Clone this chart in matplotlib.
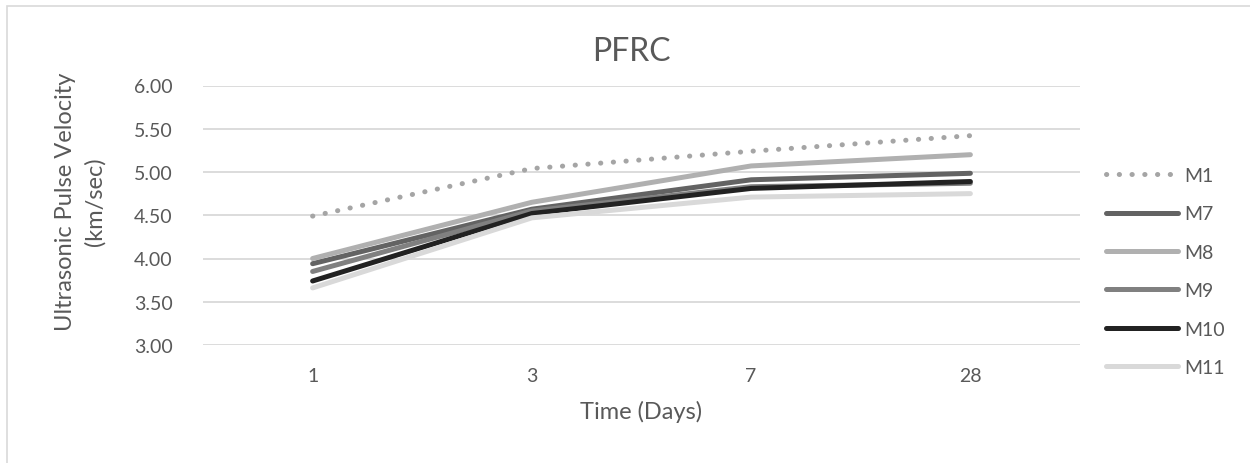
import matplotlib
matplotlib.use("Agg")
import matplotlib.pyplot as plt
from matplotlib.patches import Rectangle

days = ["1", "3", "7", "28"]
labels = ["M1", "M7", "M8", "M9", "M10", "M11"]
m1 = [4.49, 5.04, 5.24, 5.42]
m7 = [3.94, 4.57, 4.91, 4.985]
m8 = [4.00, 4.65, 5.07, 5.20]
m9 = [3.85, 4.55, 4.83, 4.87]
m10 = [3.74, 4.52, 4.81, 4.89]
m11 = [3.66, 4.47, 4.71, 4.75]

plt.rcParams['font.family'] = ['Lato', 'DejaVu Sans']
txt = '#595959'

fig = plt.figure(figsize=(12.5, 4.64), dpi=100)
fig.patches.append(Rectangle((7/1250, -0.1), 1.2, 1 - 7/464 + 0.1,
                             transform=fig.transFigure, fill=False,
                             edgecolor='#d9d9d9', lw=1.2))
ax = fig.add_axes([203/1250, 1 - 346/464, 877/1250, 259.5/464])

x = range(len(days))
lw = 3.6
ax.plot(x, m1, color='#a5a5a5', lw=lw, linestyle=(0, (0.05, 2.5)),
        dash_capstyle='round', solid_capstyle='round', label='M1')
styles = [(m7, '#636363', 'M7'), (m8, '#b0b0b0', 'M8'), (m9, '#808080', 'M9'),
          (m10, '#222222', 'M10'), (m11, '#d9d9d9', 'M11')]
for vals, c, lab in styles:
    ax.plot(x, vals, color=c, lw=lw, solid_capstyle='round',
            solid_joinstyle='round', label=lab)

ax.set_xlim(-0.5, 3.5)
ax.set_ylim(3.0, 6.0)
ax.set_yticks([3.0, 3.5, 4.0, 4.5, 5.0, 5.5, 6.0])
ax.set_yticklabels(["%.2f" % v for v in ax.get_yticks()])
ax.set_xticks(list(x))
ax.set_xticklabels(days)
ax.grid(axis='y', color='#d9d9d9', lw=1.3)
ax.set_axisbelow(True)
for s in ax.spines.values():
    s.set_visible(False)
ax.tick_params(length=0, labelsize=14, colors=txt)
ax.tick_params(axis='y', pad=22)
ax.tick_params(axis='x', pad=16)

fig.text(631/1250, 1 - 52/464, "PFRC", ha='center', va='center', fontsize=23, color=txt)
fig.text(641/1250, 1 - 412/464, "Time (Days)", ha='center', va='center', fontsize=17, color=txt)
fig.text(80/1250, 1 - 202/464, "Ultrasonic Pulse Velocity\n(km/sec)", ha='center', va='center',
         rotation=90, fontsize=17, color=txt, linespacing=1.45)

leg = ax.legend(loc='center left', bbox_to_anchor=(1106/1250, 1 - 272.5/464),
                bbox_transform=fig.transFigure, frameon=False, fontsize=14,
                handlelength=3.7, handletextpad=0.3, labelspacing=1.1,
                borderpad=0, borderaxespad=0)
for t in leg.get_texts():
    t.set_color(txt)

fig.savefig("out.png", dpi=100)
